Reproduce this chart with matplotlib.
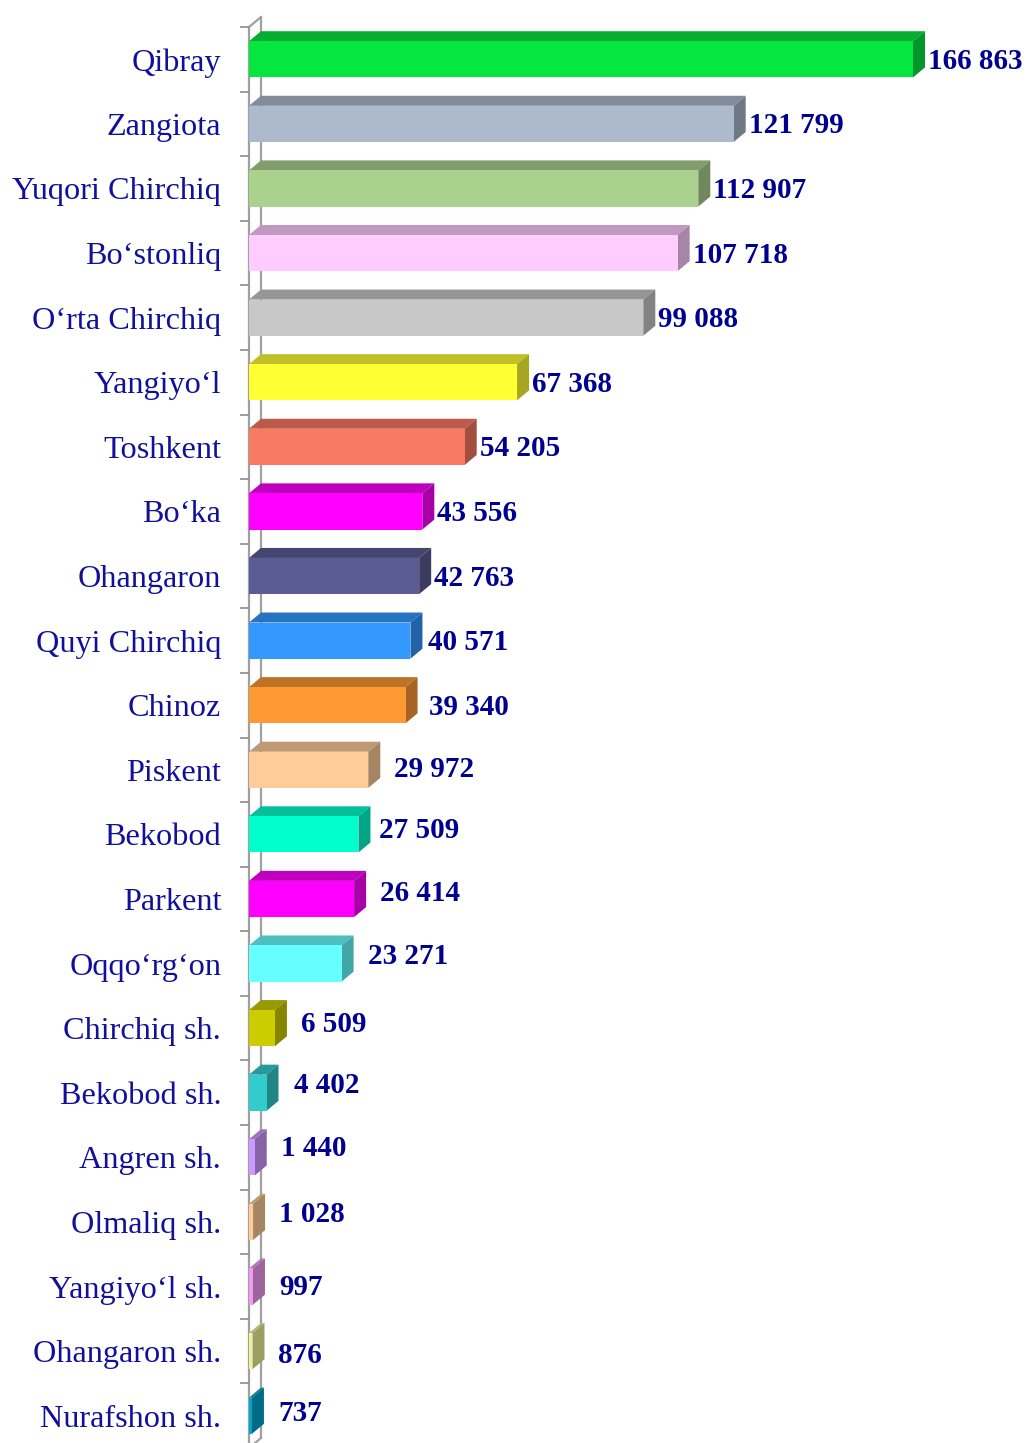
import matplotlib
matplotlib.use("Agg")
import matplotlib.pyplot as plt
from matplotlib.patches import Polygon
from matplotlib.colors import to_rgb

# Districts and cities of Tashkent region
categories = [
    "Qibray", "Zangiota", "Yuqori Chirchiq", "Bo\u2018stonliq", "O\u2018rta Chirchiq",
    "Yangiyo\u2018l", "Toshkent", "Bo\u2018ka", "Ohangaron", "Quyi Chirchiq", "Chinoz",
    "Piskent", "Bekobod", "Parkent", "Oqqo\u2018rg\u2018on", "Chirchiq sh.", "Bekobod sh.",
    "Angren sh.", "Olmaliq sh.", "Yangiyo\u2018l sh.", "Ohangaron sh.", "Nurafshon sh.",
]
values = [
    166863, 121799, 112907, 107718, 99088, 67368, 54205, 43556, 42763, 40571, 39340,
    29972, 27509, 26414, 23271, 6509, 4402, 1440, 1028, 997, 876, 737,
]
value_labels = [f"{v:,}".replace(",", " ") for v in values]

# Front-face colours of the bars
bar_colors = [
    "#06E640", "#ADB9CC", "#ABD18F", "#FFCCFF", "#C8C8C8", "#FFFF33", "#F97A62",
    "#FF00FF", "#5C5C94", "#3399FF", "#FF9933", "#FFCC99", "#00FFCC", "#FF00FF",
    "#66FFFF", "#CCCC00", "#33CCCC", "#CC99FF", "#FFCC99", "#F29AF2", "#F2F29A",
    "#00A5CC",
]

# Label nudges in pixels (horizontal gap after the bar, vertical shift)
label_gap_px = [3, 3, 3, 3, 3, 3, 3, 3, 3, 6, 11, 14, 9, 14, 14, 14, 15, 14, 14, 14, 14, 14]
label_dy_px = [2, 2, 2, 2, 2, 2, 2, 2, 2, 2, 2, 0, -4, -5, -7, -4, -7, -9, -7, 1, 4, -2]

W, H, DPI = 1027, 1443, 100
fig = plt.figure(figsize=(W / DPI, H / DPI), dpi=DPI)
fig.patch.set_facecolor("white")

# Plot area in pixels
left_px, right_px = 249, 1027
top_px, bottom_px = 27, 1448
ax = fig.add_axes([left_px / W, (H - bottom_px) / H,
                   (right_px - left_px) / W, (bottom_px - top_px) / H])

n = len(categories)
xmax = max(values) * 778 / 664
ax.set_xlim(0, xmax)
ax.set_ylim(n - 0.5, -0.5)
ax.set_facecolor("none")

# 3-D depth of bars and wall, converted from pixels into data units
DX, DY = 12, 10
px_per_x = (right_px - left_px) / xmax
px_per_y = (bottom_px - top_px) / n
dxd = DX / px_per_x
dyd = -DY / px_per_y  # upwards on screen

bar_h = 0.56
wall_color = "#A0A0A0"

# Side wall of the category axis
ax.plot([0, 0], [n - 0.5, -0.5], color=wall_color, lw=1.6, clip_on=False, zorder=1,
        solid_capstyle="butt")
ax.plot([dxd, dxd], [n - 0.5 + dyd, -0.5 + dyd], color=wall_color, lw=1.6, clip_on=False,
        zorder=1, solid_capstyle="butt")
ax.plot([0, dxd], [-0.5, -0.5 + dyd], color=wall_color, lw=1.6, clip_on=False, zorder=1)
ax.plot([0, dxd], [n - 0.5, n - 0.5 + dyd], color=wall_color, lw=1.6, clip_on=False, zorder=1)


def shade(color, k):
    r, g, b = to_rgb(color)
    return (r * k, g * k, b * k)


for i, (v, c) in enumerate(zip(values, bar_colors)):
    y_top = i - bar_h / 2
    y_bot = i + bar_h / 2
    front = Polygon([(0, y_bot), (v, y_bot), (v, y_top), (0, y_top)],
                    closed=True, facecolor=c, edgecolor="none", zorder=3, clip_on=False)
    top = Polygon([(0, y_top), (v, y_top), (v + dxd, y_top + dyd), (dxd, y_top + dyd)],
                  closed=True, facecolor=shade(c, 0.75), edgecolor="none", zorder=3,
                  clip_on=False)
    side = Polygon([(v, y_bot), (v, y_top), (v + dxd, y_top + dyd), (v + dxd, y_bot + dyd)],
                   closed=True, facecolor=shade(c, 0.65), edgecolor="none", zorder=3,
                   clip_on=False)
    for p in (top, side, front):
        ax.add_patch(p)

    ax.annotate(value_labels[i], xy=(v + dxd, i),
                xytext=(label_gap_px[i] * 0.72, label_dy_px[i] * -0.72),
                textcoords="offset points", ha="left", va="center",
                fontfamily="Liberation Serif", fontweight="bold", fontsize=21,
                color="#000090", zorder=5, annotation_clip=False)

# Category labels and tick marks between rows
ax.set_yticks(range(n))
ax.set_yticklabels(categories, fontfamily="Liberation Serif", fontsize=23.2, color="#10109A")
ax.tick_params(axis="y", which="major", length=0, pad=20)
ax.set_yticks([i - 0.5 for i in range(n + 1)], minor=True)
ax.tick_params(axis="y", which="minor", length=6.5, width=1.2, color="#8C8C8C",
               direction="out")
ax.set_xticks([])
for s in ax.spines.values():
    s.set_visible(False)

fig.savefig("out.png", dpi=DPI, facecolor="white")
